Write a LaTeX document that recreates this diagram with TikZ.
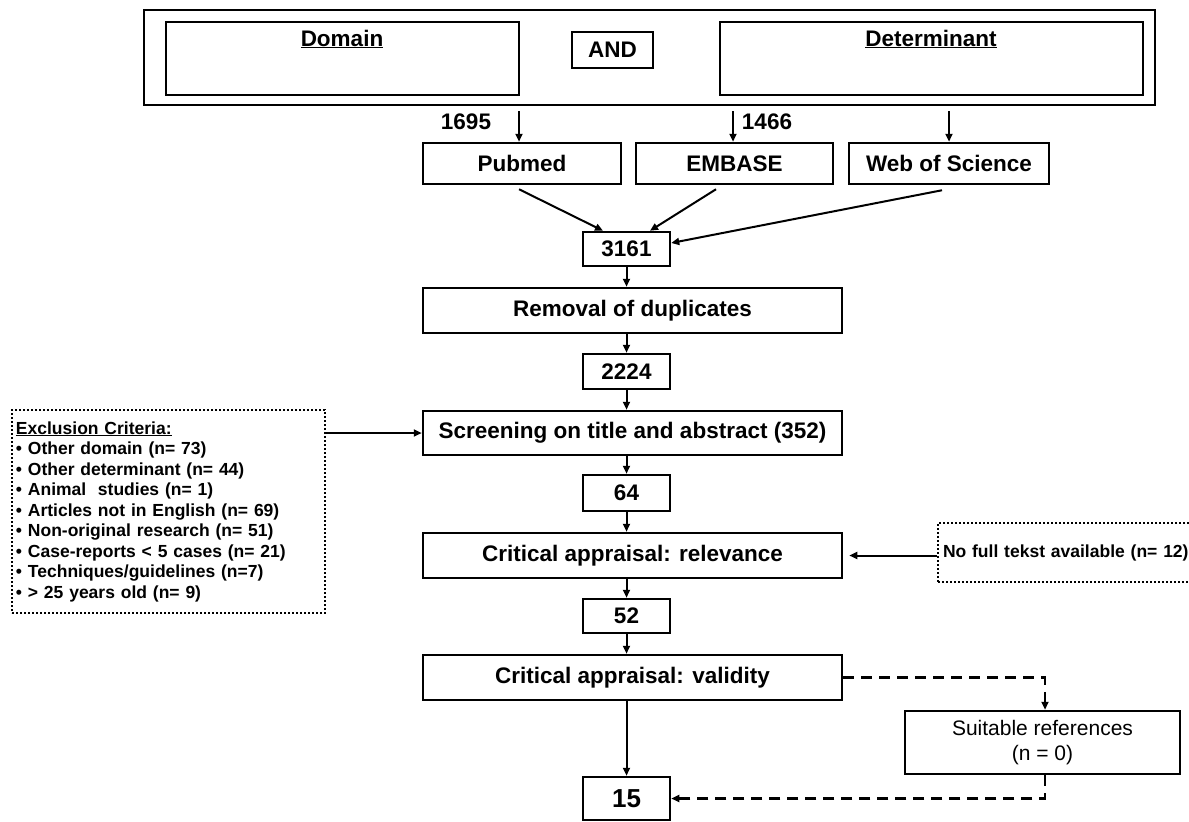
\documentclass[tikz,border=0pt]{standalone}
\usepackage{fontspec}
\setmainfont{Liberation Sans}
\usetikzlibrary{arrows.meta,calc}
\newcommand{\ftbig}{\bfseries\fontsize{22.5}{27}\selectfont}
\newcommand{\ftsmall}{\bfseries\fontsize{17.5}{20.5}\selectfont}
\begin{document}
\begin{tikzpicture}[x=1pt,y=-1pt,
  box/.style={draw, line width=2.5pt, rectangle, inner sep=0pt, font=\ftbig},
  arr/.style={line width=2pt, -{Triangle[length=8pt,width=7pt]}},
  dasharr/.style={line width=2.5pt, dash pattern=on 11pt off 7pt, -{Triangle[length=8pt,width=7pt]}},
  dotbox/.style={draw, line width=2pt, dash pattern=on 2pt off 2pt, rectangle, inner ysep=0pt, font=\ftsmall},
  lbl/.style={inner sep=0pt, font=\ftbig}
]
\useasboundingbox (0,0) rectangle (1189,822);
\fill[white] (0,0) rectangle (1189,822);

% top search block
\node[box, minimum width=1011pt, minimum height=95pt] (outer) at (649.5,57.5) {};
\node[box, minimum width=353pt, minimum height=73pt] (domain) at (342.5,58.5) {};
\node[lbl] (domlbl) at (342,39) {\underline{Domain}};
\node[box, minimum width=81pt, minimum height=36pt] (and) at (612.5,50) {AND};
\node[box, minimum width=423pt, minimum height=73pt] (determ) at (931.5,58.5) {};
\node[lbl] (detlbl) at (931,39) {\underline{Determinant}};

% databases
\node[box, minimum width=198pt, minimum height=41pt] (pubmed) at (522,163.5) {Pubmed};
\node[box, minimum width=197pt, minimum height=41pt] (embase) at (734.5,163.5) {EMBASE};
\node[box, minimum width=200pt, minimum height=41pt] (wos) at (949,163.5) {Web of Science};

\coordinate (t1) at (519,105);
\coordinate (t2) at (733,105);
\coordinate (t3) at (949,105);
\draw[arr, shorten <=6pt] (t1) -- (t1 |- pubmed.north);
\draw[arr, shorten <=6pt] (t2) -- (t2 |- embase.north);
\draw[arr, shorten <=6pt] (t3) -- (t3 |- wos.north);
\node[lbl] (n1695) at (466,122) {1695};
\node[lbl] (n1466) at (767,122) {1466};

% main flow
\node[box, minimum width=87pt, minimum height=34pt] (n3161) at (626.5,249) {3161};
\node[box, minimum width=419pt, minimum height=45pt] (removal) at (632.5,310.5) {Removal of duplicates};
\node[box, minimum width=87pt, minimum height=35pt] (n2224) at (626.5,371.5) {2224};
\node[box, minimum width=419pt, minimum height=44pt] (screen) at (632.5,433) {Screening on title and abstract (352)};
\node[box, minimum width=87pt, minimum height=36pt] (n64) at (626.5,493) {64};
\node[box, minimum width=419pt, minimum height=45pt] (relev) at (632.5,555.5) {Critical appraisal: relevance};
\node[box, minimum width=87pt, minimum height=34pt] (n52) at (626.5,616) {52};
\node[box, minimum width=419pt, minimum height=45pt] (valid) at (632.5,677.5) {Critical appraisal: validity};
\node[box, minimum width=87pt, minimum height=43pt, font=\bfseries\fontsize{26}{30}\selectfont] (n15) at (626.5,798.5) {15};

\draw[arr] ($(pubmed.south)+(-3,4)$) -- ($(n3161.north)+(-23.5,0)$);
\draw[arr] ($(embase.south)+(-18.5,4)$) -- ($(n3161.north)+(23.5,0)$);
\draw[arr] ($(wos.south)+(-7,5)$) -- ($(n3161.east)+(0,-6)$);

\draw[arr] (n3161.south) -- (n3161.south |- removal.north);
\draw[arr] (n3161.south |- removal.south) -- (n2224.north);
\draw[arr] (n2224.south) -- (n2224.south |- screen.north);
\draw[arr] (n2224.south |- screen.south) -- (n64.north);
\draw[arr] (n64.south) -- (n64.south |- relev.north);
\draw[arr] (n64.south |- relev.south) -- (n52.north);
\draw[arr] (n52.south) -- (n52.south |- valid.north);
\draw[arr] (n52.south |- valid.south) -- (n15.north);

% exclusion criteria
\node[dotbox, minimum width=313pt, minimum height=203pt, text width=305pt, align=left, inner xsep=4pt] (excl) at (168.5,511.5)
{\underline{Exclusion Criteria:}\\
• Other domain (n= 73)\\
• Other determinant (n= 44)\\
• Animal\ \ studies (n= 1)\\
• Articles not in English (n= 69)\\
• Non-original research (n= 51)\\
• Case-reports < 5 cases (n= 21)\\
• Techniques/guidelines (n=7)\\
• > 25 years old (n= 9)};
\draw[arr] (excl.east |- screen.west) -- (screen.west);

% no full text
\node[dotbox, minimum width=262pt, minimum height=59pt, text width=252pt, align=left, inner xsep=5pt] (nofull) at (1069,552.5) {No full tekst available (n= 12)};
\draw[arr, shorten >=6pt] (nofull.west |- relev.east) -- (relev.east);

% suitable references
\node[draw, line width=2.5pt, rectangle, minimum width=275pt, minimum height=63pt, inner sep=0pt, align=center, font=\fontsize{21}{25}\selectfont] (suit) at (1042.5,742.5) {Suitable references\\(n = 0)};
\coordinate (d1) at (1045,677.5);
\coordinate (d2) at (1045,798.5);
\draw[dasharr] (valid.east) -- (d1) -- (d1 |- suit.north);
\draw[dasharr] (d2 |- suit.south) -- (d2) -- (n15.east);
\end{tikzpicture}
\end{document}
